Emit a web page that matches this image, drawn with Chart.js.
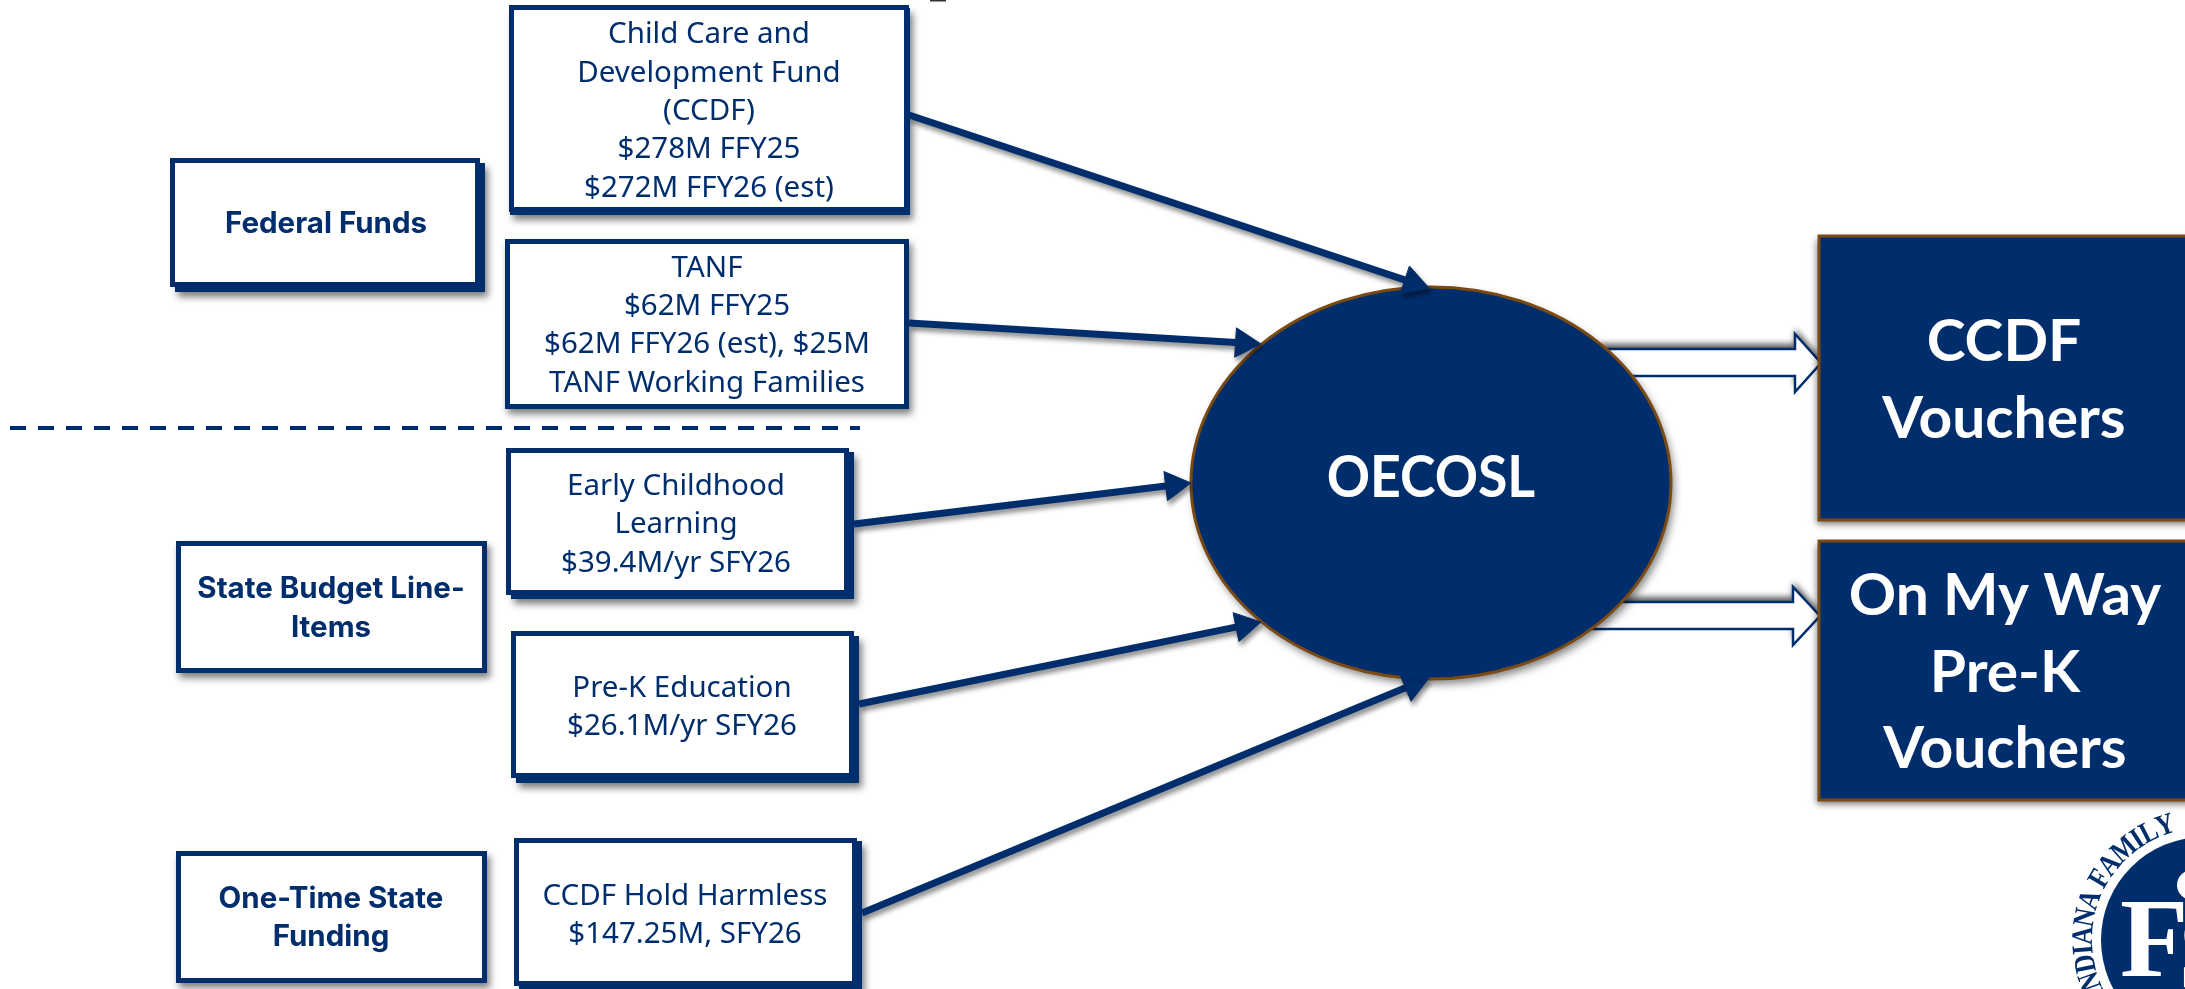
<!DOCTYPE html>
<html>
<head>
<meta charset="utf-8">
<title>Funding flow</title>
<script src="https://cdn.jsdelivr.net/npm/chart.js@4"></script>
<style>
    html, body { margin: 0; padding: 0; background: #fff; overflow: hidden; }
    canvas { display: block; }
</style>
</head>
<body>
<canvas id="flowChart" width="2185" height="989"></canvas>
<script>
//text of the diagram
const groupLabels = [
    ["Federal Funds"],
    ["State Budget Line-", "Items"],
    ["One-Time State", "Funding"]
];
const sourceLabels = [
    ["Child Care and", "Development Fund", "(CCDF)", "$278M FFY25", "$272M FFY26 (est)"],
    ["TANF", "$62M FFY25", "$62M FFY26 (est), $25M", "TANF Working Families"],
    ["Early Childhood", "Learning", "$39.4M/yr SFY26"],
    ["Pre-K Education", "$26.1M/yr SFY26"],
    ["CCDF Hold Harmless", "$147.25M, SFY26"]
];
const hubLabel = "OECOSL";
const targetLabels = [
    ["CCDF", "Vouchers"],
    ["On My Way", "Pre-K", "Vouchers"]
];
const sealLetters = "INDIANA FAMILY";

//layout, in axis units (same as the 2185x989 picture)
const groupRects = [[170, 158, 310, 129], [176, 541, 311, 132], [176, 851, 311, 132]];
const groupHardEdge = [[5, 5], [0, 0], [0, 0]];
const groupCenterX = [326, 331, 331];
const groupBaselines = [[233], [598, 637], [908, 946]];

const sourceRects = [[509, 5, 400, 207], [505, 239, 404, 170], [506, 448, 343, 147], [511, 631, 343, 147], [514, 838, 343, 148]];
const sourceHardEdge = [[1, 3], [0, 0], [5, 4], [5, 5], [5, 3]];
const sourceCenterX = [709, 707, 676, 682, 685];
const sourceBaselines = [
    [43, 82, 120, 158, 197],
    [277, 315, 353, 392],
    [495, 533, 572],
    [697, 735],
    [905, 943]
];

const hubCenter = [1431, 483];
const hubRadius = [240, 196];
const hubBaseline = 497;

const targetRects = [[1819, 236, 380, 284], [1819, 541, 380, 259]];
const targetCenterX = [2004, 2005];
const targetBaselines = [[361, 438], [615, 692, 768]];

//solid arrows, box edge to ellipse
const arrowStartX = [909, 909, 854, 859, 862];
const arrowStartY = [115, 323, 524, 704, 913];
const arrowTipX = [1429, 1261, 1191, 1261, 1429];
const arrowTipY = [288, 344, 483, 622, 678];

//hollow arrows, ellipse to voucher boxes
const hollowStartX = [1600, 1590];
const hollowNeckX = [1795, 1793];
const hollowTipX = [1821, 1820];
const hollowTipY = [363, 616];
const hollowShaftTop = [349, 602];
const hollowShaftBottom = [376, 629];
const hollowHeadTop = [334, 587];
const hollowHeadBottom = [392, 645];

const dividerX = [10, 860];
const dividerY = [428, 428];
const titleScrapX = [930, 946];
const titleScrapY = [0, 0];

const sealCenter = [2204, 940];
const sealRadius = 103;

const navy = "#002e6d";
const brown = "#7a4a12";
const headRadius = 17;

const regularFont = "400 28.5px 'Noto Sans'";
const boldFont = "700 29.5px Inter";
const hubFont = "700 57px Lato";
const targetFont = "700 57px Lato";

const setSoftShadow = (ctx, dx, dy, blur, alpha) => {
    ctx.shadowColor = "rgba(0,0,0," + alpha + ")";
    ctx.shadowOffsetX = dx;
    ctx.shadowOffsetY = dy;
    ctx.shadowBlur = blur;
}

const drawLines = (ctx, xs, lines, cx, baselines, font, color, stretch) => {
    ctx.save();
    ctx.font = font;
    ctx.fillStyle = color;
    ctx.textAlign = "center";
    ctx.textBaseline = "alphabetic";
    lines.forEach((line, i) => {
        ctx.save();
        ctx.translate(xs.x(cx), xs.y(baselines[i]));
        ctx.scale(stretch, 1);
        ctx.fillText(line, 0, 0);
        ctx.restore();
    });
    ctx.restore();
}

const drawOutlineBox = (ctx, xs, rect, hardEdge) => {
    let x = xs.x(rect[0]), y = xs.y(rect[1]);
    let w = xs.x(rect[0] + rect[2]) - x, h = xs.y(rect[1] + rect[3]) - y;
    ctx.save();
    setSoftShadow(ctx, 3, 5, 7, 0.5);
    ctx.fillStyle = navy;
    ctx.fillRect(x + hardEdge[0], y + hardEdge[1], w, h);
    ctx.restore();
    ctx.fillStyle = navy;
    ctx.fillRect(x, y, w, h);
    ctx.fillStyle = "#fff";
    ctx.fillRect(x + 5, y + 5, w - 10, h - 10);
}

const drawHollowArrow = (ctx, xs, i) => {
    ctx.save();
    ctx.beginPath();
    ctx.moveTo(xs.x(hollowStartX[i]), xs.y(hollowShaftTop[i]));
    ctx.lineTo(xs.x(hollowNeckX[i]), xs.y(hollowShaftTop[i]));
    ctx.lineTo(xs.x(hollowNeckX[i]), xs.y(hollowHeadTop[i]));
    ctx.lineTo(xs.x(hollowTipX[i]), xs.y(hollowTipY[i]));
    ctx.lineTo(xs.x(hollowNeckX[i]), xs.y(hollowHeadBottom[i]));
    ctx.lineTo(xs.x(hollowNeckX[i]), xs.y(hollowShaftBottom[i]));
    ctx.lineTo(xs.x(hollowStartX[i]), xs.y(hollowShaftBottom[i]));
    ctx.closePath();
    //shadow of these arrows falls upwards in the picture
    setSoftShadow(ctx, 0, -5, 6, 0.65);
    ctx.fillStyle = "#fff";
    ctx.fill();
    ctx.shadowColor = "transparent";
    ctx.lineWidth = 2.5;
    ctx.strokeStyle = navy;
    ctx.stroke();
    ctx.restore();
}

const drawSeal = (ctx, xs) => {
    let cx = xs.x(sealCenter[0]), cy = xs.y(sealCenter[1]);
    ctx.save();
    ctx.fillStyle = navy;
    ctx.beginPath();
    ctx.arc(cx, cy, sealRadius, 0, Math.PI * 2);
    ctx.fill();

    //letters are narrow along the arc, so spacing goes by each glyph's width
    ctx.font = "700 30px 'Liberation Serif'";
    ctx.textAlign = "center";
    ctx.textBaseline = "alphabetic";
    let squeeze = 0.84;
    let arcRadius = 120;
    let deg = -119;
    for (const letter of sealLetters) {
        let step = ctx.measureText(letter).width * squeeze / arcRadius * 180 / Math.PI;
        ctx.save();
        ctx.translate(cx, cy);
        ctx.rotate((deg + step / 2) * Math.PI / 180);
        ctx.translate(0, -(sealRadius + 9));
        ctx.scale(squeeze, 1);
        ctx.fillText(letter, 0, 0);
        ctx.restore();
        deg += step;
    }

    ctx.fillStyle = "#fff";
    ctx.font = "700 112px 'Liberation Serif'";
    ctx.textAlign = "left";
    ctx.fillText("F", xs.x(2120), xs.y(976));
    ctx.fillText("S", xs.x(2178), xs.y(990));
    ctx.beginPath();
    ctx.arc(xs.x(2192), xs.y(885), 15, 0, Math.PI * 2);
    ctx.fill();
    ctx.restore();
}

//boxes and ellipse go under the chart's own arrow datasets
const diagramPlugin = {
    id: "diagram",
    beforeDatasetsDraw(chart) {
        const ctx = chart.ctx;
        const xs = {
            x: v => chart.scales.x.getPixelForValue(v),
            y: v => chart.scales.y.getPixelForValue(v)
        };
        ctx.save();
        groupRects.forEach((r, i) => drawOutlineBox(ctx, xs, r, groupHardEdge[i]));
        sourceRects.forEach((r, i) => drawOutlineBox(ctx, xs, r, sourceHardEdge[i]));
        drawSeal(ctx, xs);

        hollowTipX.forEach((t, i) => drawHollowArrow(ctx, xs, i));

        targetRects.forEach(r => {
            ctx.save();
            setSoftShadow(ctx, -2, 4, 7, 0.55);
            ctx.fillStyle = navy;
            ctx.strokeStyle = brown;
            ctx.lineWidth = 3;
            ctx.beginPath();
            ctx.rect(xs.x(r[0]), xs.y(r[1]), r[2], r[3]);
            ctx.fill();
            ctx.shadowColor = "transparent";
            ctx.stroke();
            ctx.restore();
        });

        ctx.save();
        setSoftShadow(ctx, 3, 5, 9, 0.5);
        ctx.fillStyle = navy;
        ctx.strokeStyle = brown;
        ctx.lineWidth = 3;
        ctx.beginPath();
        ctx.ellipse(xs.x(hubCenter[0]), xs.y(hubCenter[1]), hubRadius[0], hubRadius[1], 0, 0, Math.PI * 2);
        ctx.fill();
        ctx.shadowColor = "transparent";
        ctx.stroke();
        ctx.restore();

        ctx.restore();
    },
    afterDatasetsDraw(chart) {
        const ctx = chart.ctx;
        const xs = {
            x: v => chart.scales.x.getPixelForValue(v),
            y: v => chart.scales.y.getPixelForValue(v)
        };
        groupLabels.forEach((lines, i) => drawLines(ctx, xs, lines, groupCenterX[i], groupBaselines[i], boldFont, navy, 1));
        sourceLabels.forEach((lines, i) => drawLines(ctx, xs, lines, sourceCenterX[i], sourceBaselines[i], regularFont, navy, 1.035));
        drawLines(ctx, xs, [hubLabel], hubCenter[0], [hubBaseline], hubFont, "#fff", 0.94);
        targetLabels.forEach((lines, i) => drawLines(ctx, xs, lines, targetCenterX[i], targetBaselines[i], targetFont, "#fff", 1.03));
    },
    //soft shadow for the solid arrows
    beforeDatasetDraw(chart, args) {
        const ds = chart.data.datasets[args.index];
        chart.ctx.save();
        if (ds.softShadow) {
            setSoftShadow(chart.ctx, 2, 4, 5, 0.45);
        }
    },
    afterDatasetDraw(chart) {
        chart.ctx.restore();
    }
};

let datasets = [];
arrowTipX.forEach((tipX, i) => {
    let dx = tipX - arrowStartX[i];
    let dy = arrowTipY[i] - arrowStartY[i];
    let len = Math.sqrt(dx * dx + dy * dy);
    //chart.js triangle has its apex one radius from the point
    let headX = tipX - dx / len * headRadius;
    let headY = arrowTipY[i] - dy / len * headRadius;
    let rotation = Math.atan2(dx, -dy) * 180 / Math.PI;
    datasets.push({
        label: "arrow" + i,
        data: [{x: arrowStartX[i], y: arrowStartY[i]}, {x: headX, y: headY}],
        showLine: true,
        borderColor: navy,
        borderWidth: 7,
        pointStyle: "triangle",
        pointRadius: [0, headRadius],
        pointRotation: [0, rotation],
        pointBackgroundColor: navy,
        pointBorderColor: navy,
        pointBorderWidth: 1,
        softShadow: true,
        clip: false
    });
});
datasets.push({
    label: "divider",
    data: dividerX.map((x, i) => ({x: x, y: dividerY[i]})),
    showLine: true,
    borderColor: navy,
    borderWidth: 4,
    borderDash: [16, 12],
    pointRadius: 0
});
datasets.push({
    label: "title scrap",
    data: titleScrapX.map((x, i) => ({x: x, y: titleScrapY[i]})),
    showLine: true,
    borderColor: "#333",
    borderWidth: 3,
    pointRadius: 0
});

new Chart(document.getElementById("flowChart"), {
    type: "scatter",
    data: {datasets: datasets},
    options: {
        responsive: false,
        animation: false,
        events: [],
        layout: {padding: 0, autoPadding: false},
        plugins: {legend: {display: false}, tooltip: {enabled: false}, title: {display: false}},
        scales: {
            x: {type: "linear", min: 0, max: 2185, display: false},
            y: {type: "linear", min: 0, max: 989, reverse: true, display: false}
        }
    },
    plugins: [diagramPlugin]
});
</script>
</body>
</html>
